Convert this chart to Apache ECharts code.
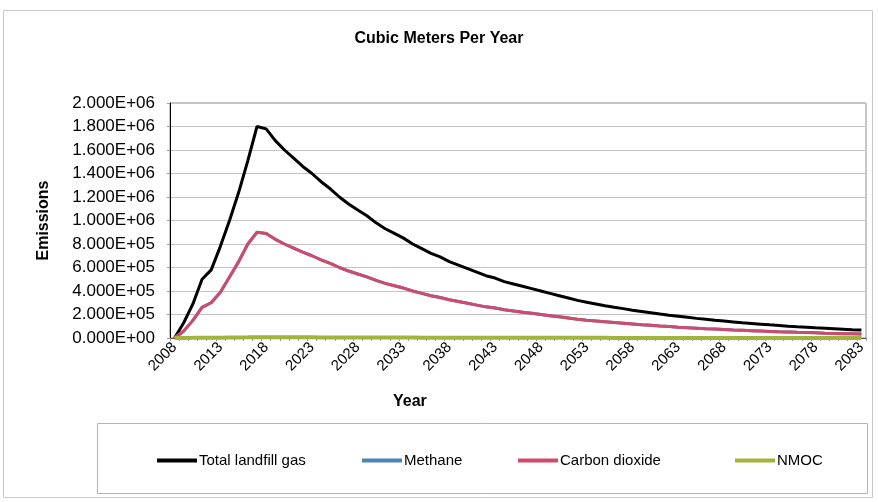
<!DOCTYPE html>
<html>
<head>
<meta charset="utf-8">
<script src="https://cdn.jsdelivr.net/npm/echarts@6/dist/echarts.min.js"></script>
<style>
  html, body { margin: 0; padding: 0; background: #fff; }
  #chart { width: 878px; height: 502px; }
</style>
</head>
<body>
<div id="chart"></div>
<script>
// Landfill gas generation, cubic meters per year
const years = [
  '2008','2009','2010','2011','2012','2013','2014','2015','2016','2017',
  '2018','2019','2020','2021','2022','2023','2024','2025','2026','2027',
  '2028','2029','2030','2031','2032','2033','2034','2035','2036','2037',
  '2038','2039','2040','2041','2042','2043','2044','2045','2046','2047',
  '2048','2049','2050','2051','2052','2053','2054','2055','2056','2057',
  '2058','2059','2060','2061','2062','2063','2064','2065','2066','2067',
  '2068','2069','2070','2071','2072','2073','2074','2075','2076','2077',
  '2078','2079','2080','2081','2082','2083'
];

const totalLandfillGas = [
  0, 130000, 290000, 500000, 580000, 780000, 1000000, 1240000, 1510000, 1800000,
  1780000, 1680000, 1600000, 1530000, 1460000, 1400000, 1330000, 1270000, 1200000, 1140000,
  1090000, 1040000, 980000, 930000, 890000, 850000, 800000, 760000, 720000, 690000,
  650000, 620000, 590000, 560000, 530000, 510000, 480000, 460000, 440000, 420000,
  400000, 380000, 360000, 340000, 320000, 305000, 290000, 275000, 262000, 250000,
  237000, 226000, 215000, 204000, 194000, 185000, 176000, 167000, 159000, 151000,
  144000, 137000, 130000, 124000, 118000, 112000, 107000, 101000, 96000, 92000,
  87000, 83000, 79000, 75000, 71000, 68000
];

const methane = [
  0, 60000, 150000, 260000, 300000, 390000, 520000, 650000, 800000, 900000,
  890000, 840000, 800000, 765000, 730000, 700000, 665000, 635000, 600000, 570000,
  545000, 520000, 490000, 465000, 445000, 425000, 400000, 380000, 360000, 345000,
  325000, 310000, 295000, 280000, 265000, 255000, 240000, 230000, 220000, 210000,
  200000, 190000, 180000, 170000, 160000, 152000, 145000, 138000, 131000, 125000,
  119000, 113000, 108000, 102000, 97000, 92000, 88000, 84000, 79000, 76000,
  72000, 68000, 65000, 62000, 59000, 56000, 53000, 51000, 48000, 46000,
  44000, 41000, 39000, 37000, 36000, 34000
];

const carbonDioxide = [
  0, 60000, 150000, 260000, 300000, 390000, 520000, 650000, 800000, 900000,
  890000, 840000, 800000, 765000, 730000, 700000, 665000, 635000, 600000, 570000,
  545000, 520000, 490000, 465000, 445000, 425000, 400000, 380000, 360000, 345000,
  325000, 310000, 295000, 280000, 265000, 255000, 240000, 230000, 220000, 210000,
  200000, 190000, 180000, 170000, 160000, 152000, 145000, 138000, 131000, 125000,
  119000, 113000, 108000, 102000, 97000, 92000, 88000, 84000, 79000, 76000,
  72000, 68000, 65000, 62000, 59000, 56000, 53000, 51000, 48000, 46000,
  44000, 41000, 39000, 37000, 36000, 34000
];

const nmoc = [
  0, 500, 1200, 2000, 2300, 3100, 4000, 5000, 6000, 7200,
  7100, 6700, 6400, 6100, 5800, 5600, 5300, 5100, 4800, 4600,
  4400, 4200, 3900, 3700, 3600, 3400, 3200, 3000, 2900, 2800,
  2600, 2500, 2400, 2200, 2100, 2000, 1900, 1800, 1800, 1700,
  1600, 1500, 1400, 1400, 1300, 1200, 1200, 1100, 1000, 1000,
  950, 900, 860, 820, 780, 740, 700, 670, 640, 600,
  580, 550, 520, 500, 470, 450, 430, 400, 380, 370,
  350, 330, 320, 300, 280, 270
];

const seriesNames = ['Total landfill gas', 'Methane', 'Carbon dioxide', 'NMOC'];
const seriesData = [totalLandfillGas, methane, carbonDioxide, nmoc];
const seriesColors = ['#000000', '#4f81bd', '#cf4b6c', '#a3b43c'];
const legendLefts = [157, 362, 518, 735];

const FONT = 'Liberation Sans, Arial, sans-serif';

// Scientific label like 2.000E+06
function sci(v) {
  const [m, e] = Number(v).toExponential(3).split('e');
  const n = parseInt(e, 10);
  const sign = n < 0 ? '-' : '+';
  const abs = Math.abs(n);
  return m + 'E' + sign + (abs < 10 ? '0' + abs : String(abs));
}

const chart = echarts.init(document.getElementById('chart'), null, { renderer: 'canvas' });

chart.setOption({
  animation: false,
  backgroundColor: '#ffffff',
  textStyle: { fontFamily: FONT },
  title: [
    {
      text: 'Cubic Meters Per Year',
      left: 'center',
      top: 26,
      textStyle: { fontSize: 16, fontWeight: 'bold', color: '#000', fontFamily: FONT }
    },
    {
      text: 'Year',
      left: 388,
      top: 389,
      textStyle: { fontSize: 16, fontWeight: 'bold', color: '#000', fontFamily: FONT }
    }
  ],
  graphic: [
    {
      type: 'rect',
      shape: { x: 3.5, y: 10.5, width: 869, height: 487 },
      style: { fill: 'none', stroke: '#c8c8c8', lineWidth: 1 },
      silent: true,
      z: -10
    },
    {
      type: 'rect',
      shape: { x: 97.5, y: 423.5, width: 770, height: 70 },
      style: { fill: 'none', stroke: '#b4b4b4', lineWidth: 1 },
      silent: true,
      z: -10
    }
  ],
  legend: seriesNames.map((name, i) => ({
    data: [name],
    left: legendLefts[i],
    top: 453,
    icon: 'rect',
    itemWidth: 40,
    itemHeight: 4,
    itemGap: 0,
    padding: 0,
    textStyle: { fontSize: 15, color: '#000', fontFamily: FONT, padding: [0, 0, 0, -3] }
  })),
  grid: {
    left: 170,
    right: 12,
    top: 103,
    bottom: 164,
    show: true,
    borderColor: '#8c8c8c',
    borderWidth: 1,
    backgroundColor: '#ffffff'
  },
  xAxis: {
    type: 'category',
    data: years,
    boundaryGap: true,
    axisLine: { show: true, lineStyle: { color: '#555', width: 1 } },
    axisTick: { show: true, interval: 0, length: 3, lineStyle: { color: '#999' } },
    axisLabel: {
      interval: 4,
      rotate: 45,
      fontSize: 15,
      color: '#000',
      margin: 7,
      fontFamily: FONT
    },
    splitLine: { show: false }
  },
  yAxis: {
    type: 'value',
    min: 0,
    max: 2000000,
    interval: 200000,
    name: 'Emissions',
    nameLocation: 'middle',
    nameGap: 118,
    nameTextStyle: { fontSize: 16, fontWeight: 'bold', color: '#000', fontFamily: FONT },
    axisLine: { show: true, lineStyle: { color: '#000', width: 1 } },
    axisTick: { show: true, length: 3, lineStyle: { color: '#999' } },
    axisLabel: { fontSize: 17, color: '#000', margin: 15, formatter: sci, fontFamily: FONT },
    splitLine: { show: true, lineStyle: { color: '#c4c4c4', width: 1 } }
  },
  series: seriesNames.map((name, i) => ({
    name: name,
    type: 'line',
    data: seriesData[i],
    showSymbol: false,
    symbol: 'none',
    smooth: false,
    lineStyle: { color: seriesColors[i], width: i === 3 ? 4 : 3 },
    itemStyle: { color: seriesColors[i] },
    z: 2 + i
  }))
});
</script>
</body>
</html>
